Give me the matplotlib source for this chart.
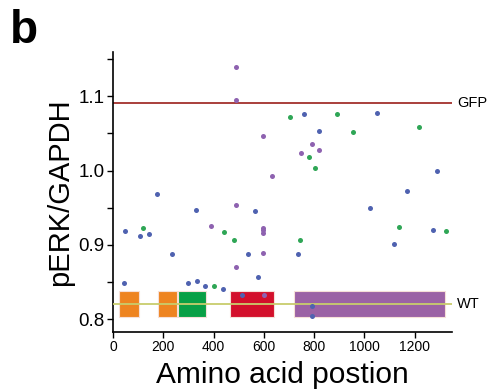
import matplotlib
matplotlib.use("Agg")
import matplotlib.pyplot as plt

plt.rcParams['font.family'] = ['Liberation Sans', 'DejaVu Sans']

# ---- data ----
blue_x = [49, 43, 106, 145, 173, 235, 330, 299, 335, 365, 438, 565, 538, 577, 514,
          737, 761, 818, 1048, 1168, 1289, 1022, 1273, 1118, 792, 792]
blue_y = [0.919, 0.848, 0.912, 0.914, 0.969, 0.887, 0.947, 0.848, 0.851, 0.844, 0.841,
          0.946, 0.887, 0.857, 0.832, 0.887, 1.076, 1.053, 1.077, 0.973, 0.999, 0.950,
          0.920, 0.901, 0.817, 0.804]

green_x = [121, 442, 480, 403, 744, 704, 892, 953, 1216, 778, 803, 1137, 1324]
green_y = [0.922, 0.917, 0.907, 0.845, 0.907, 1.072, 1.076, 1.052, 1.058, 1.018,
           1.003, 0.924, 0.918]

purple_x = [489, 488, 598, 631, 790, 820, 746, 388, 488, 598, 598, 598, 598, 488, 599]
purple_y = [1.139, 1.095, 1.047, 0.992, 1.036, 1.028, 1.023, 0.925, 0.954, 0.923,
            0.920, 0.916, 0.889, 0.870, 0.833]

domain_start = [24, 177, 260, 464, 718]
domain_end = [105, 254, 370, 640, 1320]
domain_colors = ['#EE8420', '#EE8420', '#09A046', '#D3102B', '#9B62A5']
box_bottom, box_top = 0.803, 0.838

gfp_level = 1.091
wt_level = 0.820

x_ticks = [0, 200, 400, 600, 800, 1000, 1200]
y_ticks = [0.8, 0.9, 1.0, 1.1]
y_minor = [0.85, 0.95, 1.05, 1.15]

# ---- figure ----
fig = plt.figure(figsize=(4.88, 3.92), dpi=100)
ax = fig.add_axes([113/488, 1-331.7/392, (452-113)/488, (331.7-51.7)/392])

widths = [e - s for s, e in zip(domain_start, domain_end)]
centers = [(s + e) / 2 for s, e in zip(domain_start, domain_end)]
ax.bar(centers, [box_top - box_bottom]*len(centers), width=widths, bottom=box_bottom,
       color=domain_colors, edgecolor='#F6E0D8', linewidth=0.8, zorder=2)

ax.axhline(gfp_level, color='#A3302C', lw=1.3, zorder=1)
ax.axhline(wt_level, color='#C8CD6C', lw=1.3, zorder=3)

ms = 13
ax.scatter(blue_x, blue_y, s=ms, color='#4F62B0', lw=0, zorder=4)
ax.scatter(green_x, green_y, s=ms, color='#2FA656', lw=0, zorder=4)
ax.scatter(purple_x, purple_y, s=ms, color='#8E62B0', lw=0, zorder=4)

ax.set_xlim(0, 1348)
ax.set_ylim(0.783, 1.160)
ax.set_xticks(x_ticks)
ax.set_yticks(y_ticks)
ax.set_yticklabels([f"{v:.1f}" for v in y_ticks])
ax.set_yticks(y_minor, minor=True)
ax.tick_params(axis='y', which='both', length=4, width=1, direction='out', labelsize=13.5, pad=2)
ax.tick_params(axis='x', length=4, width=1, direction='out', labelsize=10, pad=2)

for s in ['top', 'right']:
    ax.spines[s].set_visible(False)
for s in ['left', 'bottom']:
    ax.spines[s].set_linewidth(1.2)

ax.set_xlabel('Amino acid postion', fontsize=21.5, labelpad=5)
ax.set_ylabel('pERK/GAPDH', fontsize=21, labelpad=3)

ax.text(1.015, gfp_level, 'GFP', transform=ax.get_yaxis_transform(), fontsize=10.5,
        va='center', ha='left')
ax.text(1.015, wt_level, 'WT', transform=ax.get_yaxis_transform(), fontsize=10.5,
        va='center', ha='left')

fig.text(10/488, 1-9/392, 'b', fontsize=33, fontweight='bold', va='top', ha='left')

fig.savefig('out.png', dpi=100)
